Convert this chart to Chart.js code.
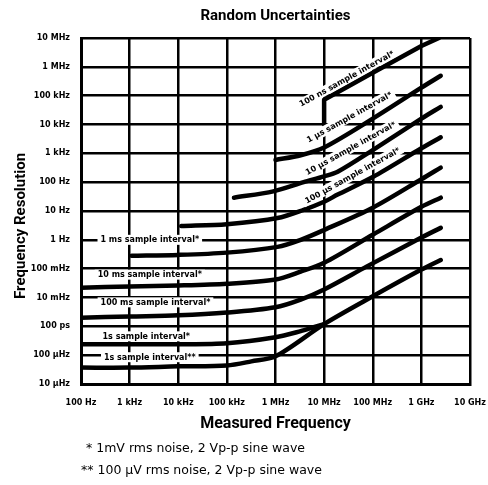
<!DOCTYPE html>
<html>
<head>
<meta charset="utf-8">
<script src="https://cdn.jsdelivr.net/npm/chart.js@4.4.0/dist/chart.umd.min.js"></script>
<style>
    body { margin: 0; background: #fff; }
    #wrap { position: relative; width: 488px; height: 485px; }
    .note { position: absolute; font: 12.5px 'DejaVu Sans', sans-serif; color: #000; white-space: nowrap; }
</style>
</head>
<body>
<div id="wrap">
    <canvas id="chartCanvas" width="488" height="485"></canvas>
    <div class="note" style="left:86px; top:440px">* 1mV rms noise, 2 Vp-p sine wave</div>
    <div class="note" style="left:81px; top:462px">** 100 µV rms noise, 2 Vp-p sine wave</div>
</div>
<script>
// axis ticks
const xTicks = [1e2, 1e3, 1e4, 1e5, 1e6, 1e7, 1e8, 1e9, 1e10];
const xTickLabels = ['100 Hz', '1 kHz', '10 kHz', '100 kHz', '1 MHz', '10 MHz', '100 MHz', '1 GHz', '10 GHz'];
const yTicks = [1e-5, 1e-4, 1e-3, 1e-2, 1e-1, 1, 10, 100, 1e3, 1e4, 1e5, 1e6, 1e7];
const yTickLabels = ['10 µHz', '100 µHz', '100 ps', '10 mHz', '100 mHz', '1 Hz', '10 Hz', '100 Hz',
    '1 kHz', '10 kHz', '100 kHz', '1 MHz', '10 MHz'];

// curves: measured frequency (Hz) -> frequency resolution (Hz)
const freq100ns = [1e7, 1e7, 1e8, 1e9, 2.3e9];
const res100ns = [1e4, 7.2e4, 6.2e5, 5.3e6, 1e7];
const freq1us = [1e6, 3.3e6, 1e7, 1e8, 1e9, 2.5e9];
const res1us = [590, 860, 1600, 1.6e4, 1.9e5, 4.9e5];
const freq10us = [1.4e5, 9e5, 3.8e6, 1e7, 1.9e7, 1e8, 1e9, 2.5e9];
const res10us = [29, 48, 100, 160, 230, 1300, 1.6e4, 4.1e4];
const freq100us = [1.15e4, 1e5, 1.1e6, 3.8e6, 1e7, 1.9e7, 1e8, 1e9, 2.5e9];
const res100us = [3.0, 3.5, 5.7, 11, 21, 37, 150, 1500, 3600];
const freq1ms = [1.1e3, 1e4, 1e5, 1.1e6, 3.3e6, 1e7, 1e8, 1e9, 2.5e9];
const res1ms = [0.28, 0.30, 0.36, 0.57, 1.0, 2.2, 13, 126, 320];
const freq10ms = [100, 1e3, 1e4, 1e5, 1e6, 3.3e6, 1e7, 1e8, 1e9, 2.5e9];
const res10ms = [0.022, 0.024, 0.026, 0.030, 0.042, 0.079, 0.16, 1.5, 14, 29];
const freq100ms = [100, 1e3, 1e4, 1e5, 1e6, 3.3e6, 1e7, 7.6e7, 1e9, 2.5e9];
const res100ms = [0.0020, 0.0022, 0.0024, 0.0030, 0.0046, 0.0085, 0.019, 0.12, 1.2, 2.6];
const freq1sA = [100, 1e3, 1e4, 1e5, 1e6, 3.3e6, 6.1e6, 1e7];
const res1sA = [2.4e-4, 2.4e-4, 2.4e-4, 2.6e-4, 4.2e-4, 6.8e-4, 9.3e-4, 1.2e-3];
const freq1sB = [100, 1e3, 1e4, 1e5, 3.2e5, 1e6, 1e7, 1e8, 1e9, 2.5e9];
const res1sB = [3.7e-5, 3.7e-5, 4.1e-5, 4.4e-5, 6.1e-5, 9.1e-5, 1.2e-3, 1.1e-2, 0.093, 0.20];

const seriesNames = ['100 ns', '1 µs', '10 µs', '100 µs', '1 ms', '10 ms', '100 ms', '1 s *', '1 s **'];
const seriesFreq = [freq100ns, freq1us, freq10us, freq100us, freq1ms, freq10ms, freq100ms, freq1sA, freq1sB];
const seriesRes = [res100ns, res1us, res10us, res100us, res1ms, res10ms, res100ms, res1sA, res1sB];

// curve labels, anchored in data coordinates
const curveLabels = [
    { text: '100 ns sample interval*', f: 2.9e7, r: 3.9e5, angle: -29 },
    { text: '1 µs sample interval*', f: 3.3e7, r: 1.8e4, angle: -29 },
    { text: '10 µs sample interval*', f: 3.5e7, r: 1.5e3, angle: -29 },
    { text: '100 µs sample interval*', f: 3.8e7, r: 170, angle: -29 },
    { text: '1 ms sample interval*', f: 2.6e3, r: 1, angle: 0 },
    { text: '10 ms sample interval*', f: 2.6e3, r: 0.062, angle: 0 },
    { text: '100 ms sample interval*', f: 3.4e3, r: 0.0068, angle: 0 },
    { text: '1s sample interval*', f: 2.2e3, r: 4.5e-4, angle: 0 },
    { text: '1s sample interval**', f: 2.6e3, r: 8.5e-5, angle: 0 }
];

const curveLabelPlugin = {
    id: 'curveLabels',
    afterDatasetsDraw(chart) {
        const { ctx } = chart;
        const xs = chart.scales.x, ys = chart.scales.y;
        ctx.save();
        ctx.font = 'bold 8px "DejaVu Sans", sans-serif';
        ctx.textAlign = 'center';
        ctx.textBaseline = 'middle';
        curveLabels.forEach(l => {
            const px = xs.getPixelForValue(l.f);
            const py = ys.getPixelForValue(l.r);
            const w = ctx.measureText(l.text).width;
            ctx.save();
            ctx.translate(px, py);
            ctx.rotate(l.angle * Math.PI / 180);
            ctx.fillStyle = '#fff';
            ctx.fillRect(-w / 2 - 3, -5, w + 6, 10);
            ctx.fillStyle = '#000';
            ctx.fillText(l.text, 0, 0.5);
            ctx.restore();
        });
        ctx.restore();
    }
};

const titleFont = "Roboto, 'Liberation Sans', sans-serif";

const datasets = seriesNames.map((name, i) => ({
    label: name,
    data: seriesFreq[i].map((f, j) => ({ x: f, y: seriesRes[i][j] })),
    borderColor: '#000',
    borderWidth: 4.5,
    borderCapStyle: 'round',
    borderJoinStyle: 'round',
    pointRadius: 0,
    fill: false,
    tension: i === 0 ? 0 : 0.3
}));

const ctx = document.getElementById('chartCanvas').getContext('2d');
new Chart(ctx, {
    type: 'line',
    data: { datasets: datasets },
    plugins: [curveLabelPlugin],
    options: {
        responsive: false,
        animation: false,
        devicePixelRatio: 1,
        layout: { padding: { left: 0, right: 18, top: 0, bottom: 51 } },
        plugins: {
            legend: { display: false },
            tooltip: { enabled: false },
            title: {
                display: true,
                fullSize: false,
                text: 'Random Uncertainties',
                color: '#000',
                font: { family: titleFont, size: 15, weight: 'bold' },
                padding: { top: 7, bottom: 13 }
            }
        },
        scales: {
            x: {
                type: 'logarithmic',
                min: 1e2,
                max: 1e10,
                afterBuildTicks: scale => { scale.ticks = xTicks.map(v => ({ value: v })); },
                afterFit: scale => {
                    scale.height = 50;
                    scale.paddingLeft = 0;
                    scale.paddingRight = 0;
                },
                grid: { color: '#000', lineWidth: 2.5, drawTicks: false },
                border: { color: '#000', width: 3 },
                ticks: {
                    color: '#000',
                    padding: 14,
                    maxRotation: 0,
                    autoSkip: false,
                    font: { family: "'DejaVu Sans', sans-serif", size: 8, weight: 'bold' },
                    callback: (v, i) => xTickLabels[i]
                },
                title: {
                    display: true,
                    text: 'Measured Frequency',
                    color: '#000',
                    font: { family: titleFont, size: 16, weight: 'bold' },
                    padding: { top: 0, bottom: 0 }
                }
            },
            y: {
                type: 'logarithmic',
                min: 1e-5,
                max: 1e7,
                afterBuildTicks: scale => { scale.ticks = yTicks.map(v => ({ value: v })); },
                afterFit: scale => {
                    scale.width = 81;
                    scale.paddingTop = 0;
                    scale.paddingBottom = 0;
                },
                grid: { color: '#000', lineWidth: 2.5, drawTicks: false },
                border: { color: '#000', width: 3 },
                ticks: {
                    color: '#000',
                    padding: 11,
                    autoSkip: false,
                    font: { family: "'DejaVu Sans', sans-serif", size: 8, weight: 'bold' },
                    callback: (v, i) => yTickLabels[i]
                },
                title: {
                    display: true,
                    // trailing spaces push the title down along the axis, as in the original
                    text: 'Frequency Resolution\u00a0\u00a0\u00a0\u00a0\u00a0\u00a0\u00a0\u00a0',
                    color: '#000',
                    font: { family: titleFont, size: 15, weight: 'bold' },
                    padding: { top: 12, bottom: 0 }
                }
            }
        }
    }
});
</script>
</body>
</html>
